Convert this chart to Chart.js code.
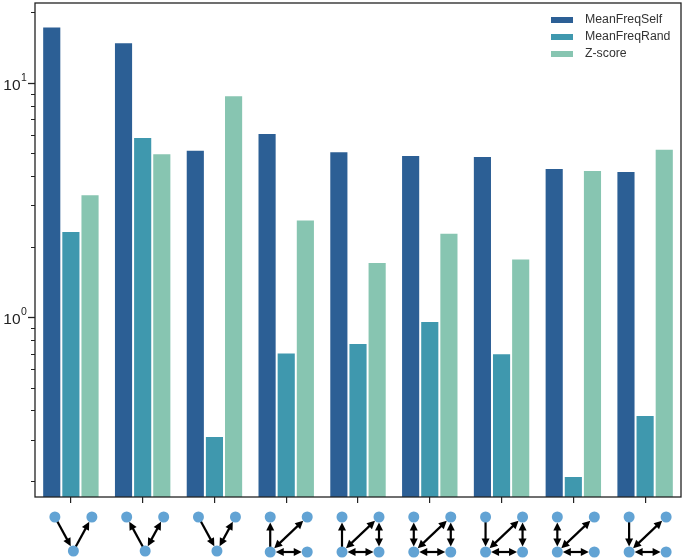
<!DOCTYPE html>
<html>
<head>
<meta charset="utf-8">
<script src="https://cdn.jsdelivr.net/npm/chart.js@4/dist/chart.umd.min.js"></script>
<style>
  html, body { margin: 0; padding: 0; background: #fff; }
  canvas { display: block; }
</style>
</head>
<body>
<canvas id="motifChart" width="685" height="560"></canvas>
<script>
'use strict';

/* ── Data ──────────────────────────────────────────────────────────────── */

const categories = ['M1', 'M2', 'M3', 'M4', 'M5', 'M6', 'M7', 'M8', 'M9'];
const meanFreqSelf = [17.4, 14.9, 5.18, 6.10, 5.10, 4.92, 4.87, 4.33, 4.20];
const meanFreqRand = [2.33, 5.87, 0.311, 0.707, 0.777, 0.964, 0.702, 0.210, 0.383];
const zScore = [3.35, 5.01, 8.84, 2.61, 1.72, 2.29, 1.78, 4.25, 5.23];

const seriesLabels = ['MeanFreqSelf', 'MeanFreqRand', 'Z-score'];
const seriesColors = ['#2c5f95', '#3f98ae', '#87c5b1'];

const yMajorTicks = [1, 10];
const yMajorExponents = ['0', '1'];
const yMinorTicks = [0.2, 0.3, 0.4, 0.5, 0.6, 0.7, 0.8, 0.9, 2, 3, 4, 5, 6, 7, 8, 9, 20];

// motif edges under each category: [from, to, both directions]
const motifEdges = [
    [['TL', 'BM', false], ['BM', 'TR', false]],
    [['BM', 'TL', false], ['BM', 'TR', true]],
    [['TL', 'BM', false], ['BM', 'TR', true]],
    [['BL', 'TL', false], ['BL', 'TR', true], ['BL', 'BR', true]],
    [['BL', 'TL', false], ['BL', 'TR', true], ['BL', 'BR', true], ['TR', 'BR', true]],
    [['TL', 'BL', true], ['BL', 'TR', true], ['BL', 'BR', true], ['TR', 'BR', true]],
    [['TL', 'BL', false], ['BL', 'TR', true], ['BL', 'BR', true], ['TR', 'BR', true]],
    [['TL', 'BL', true], ['BL', 'TR', true], ['BL', 'BR', true]],
    [['TL', 'BL', false], ['BL', 'TR', true], ['BL', 'BR', true]],
];

const INK = '#222';
const NODE_COLOR = '#62a3d4';
const NODE_R = 5.5;

/* ── Helpers ───────────────────────────────────────────────────────────── */

function nodePos(name, cx, top, bot) {
    switch (name) {
        case 'TL': return [cx - 16, top];
        case 'TR': return [cx + 21, top];
        case 'BL': return [cx - 16, bot];
        case 'BR': return [cx + 21, bot];
        default:   return [cx + 2.5, bot - 1];
    }
}

function arrowHead(ctx, x, y, ux, uy) {
    const len = 8, half = 4;
    ctx.beginPath();
    ctx.moveTo(x, y);
    ctx.lineTo(x - ux * len - uy * half, y - uy * len + ux * half);
    ctx.lineTo(x - ux * len + uy * half, y - uy * len - ux * half);
    ctx.closePath();
    ctx.fill();
}

function drawEdge(ctx, p, q, both) {
    const dx = q[0] - p[0], dy = q[1] - p[1];
    const d = Math.hypot(dx, dy);
    const ux = dx / d, uy = dy / d;
    const tip = [q[0] - ux * NODE_R, q[1] - uy * NODE_R];
    const tail = both ? [p[0] + ux * NODE_R, p[1] + uy * NODE_R] : p;
    ctx.beginPath();
    ctx.moveTo(tail[0] + (both ? ux * 6 : 0), tail[1] + (both ? uy * 6 : 0));
    ctx.lineTo(tip[0] - ux * 6, tip[1] - uy * 6);
    ctx.stroke();
    arrowHead(ctx, tip[0], tip[1], ux, uy);
    if (both) arrowHead(ctx, tail[0], tail[1], -ux, -uy);
}

/* ── Decorations: frame, log ticks, legend, motif icons ────────────────── */

const decorPlugin = {
    id: 'decor',
    afterDraw(chart) {
        const ctx = chart.ctx;
        const a = chart.chartArea;
        const xs = chart.scales.x;
        const ys = chart.scales.y;
        ctx.save();

        // frame
        ctx.strokeStyle = INK;
        ctx.lineWidth = 1.3;
        ctx.strokeRect(a.left, a.top, a.right - a.left, a.bottom - a.top);

        // y ticks
        yMinorTicks.forEach(v => {
            const y = Math.round(ys.getPixelForValue(v)) + 0.5;
            ctx.lineWidth = 1;
            ctx.beginPath();
            ctx.moveTo(a.left, y);
            ctx.lineTo(a.left - 4, y);
            ctx.stroke();
        });
        yMajorTicks.forEach((v, i) => {
            const y = Math.round(ys.getPixelForValue(v)) + 0.5;
            ctx.lineWidth = 1.3;
            ctx.beginPath();
            ctx.moveTo(a.left, y);
            ctx.lineTo(a.left - 7, y);
            ctx.stroke();
            ctx.fillStyle = INK;
            ctx.textBaseline = 'middle';
            ctx.textAlign = 'right';
            ctx.font = '15.5px "Liberation Sans", Arial, sans-serif';
            ctx.fillText('10', 20.5, y + 2);
            ctx.textAlign = 'left';
            ctx.font = '10.5px "Liberation Sans", Arial, sans-serif';
            ctx.fillText(yMajorExponents[i], 21, y - 5);
        });

        // legend
        ctx.font = '12.3px "Liberation Sans", Arial, sans-serif';
        ctx.textAlign = 'left';
        ctx.textBaseline = 'middle';
        chart.data.datasets.forEach((ds, i) => {
            const y = 20 + i * 17;
            ctx.fillStyle = ds.backgroundColor;
            ctx.fillRect(551, y - 3, 22, 6);
            ctx.fillStyle = '#333';
            ctx.fillText(ds.label, 585, y);
        });

        // motif icons under the x axis
        const top = a.bottom + 20;
        const bot = a.bottom + 55;
        ctx.strokeStyle = '#000';
        ctx.fillStyle = '#000';
        ctx.lineWidth = 2.2;
        motifEdges.forEach((edges, i) => {
            const cx = xs.getPixelForValue(i);
            const used = new Set();
            edges.forEach(([f, t, both]) => {
                drawEdge(ctx, nodePos(f, cx, top, bot), nodePos(t, cx, top, bot), both);
                used.add(f); used.add(t);
            });
            if (!used.has('BM')) { used.add('TL'); used.add('TR'); used.add('BL'); used.add('BR'); }
            ctx.fillStyle = NODE_COLOR;
            used.forEach(n => {
                const p = nodePos(n, cx, top, bot);
                ctx.beginPath();
                ctx.arc(p[0], p[1], NODE_R, 0, Math.PI * 2);
                ctx.fill();
            });
            ctx.fillStyle = '#000';
        });

        ctx.restore();
    },
};

/* ── Chart ─────────────────────────────────────────────────────────────── */

const seriesValues = [meanFreqSelf, meanFreqRand, zScore];

new Chart(document.getElementById('motifChart').getContext('2d'), {
    type: 'bar',
    data: {
        labels: categories,
        datasets: seriesValues.map((vals, i) => ({
            label: seriesLabels[i],
            data: vals,
            backgroundColor: seriesColors[i],
            borderColor: '#ffffff',
            borderWidth: 1,
            borderSkipped: 'start',
            categoryPercentage: 0.8,
            barPercentage: 1.0,
        })),
    },
    options: {
        responsive: false,
        animation: false,
        layout: { padding: { left: 0, top: 3, right: 4, bottom: 0 } },
        plugins: {
            legend: { display: false },
            tooltip: { enabled: false },
        },
        scales: {
            x: {
                type: 'category',
                grid: { display: true, offset: false, drawOnChartArea: false, drawTicks: true, tickLength: 6, color: INK, lineWidth: 1.2 },
                border: { display: false },
                ticks: { callback: () => '', font: { size: 1 } },
                afterFit: s => { s.height = 63; },
            },
            y: {
                type: 'logarithmic',
                min: 0.171,
                max: 21.9,
                grid: { display: false },
                border: { display: false },
                ticks: { display: false },
                afterFit: s => { s.width = 35; },
            },
        },
    },
    plugins: [decorPlugin],
});
</script>
</body>
</html>
